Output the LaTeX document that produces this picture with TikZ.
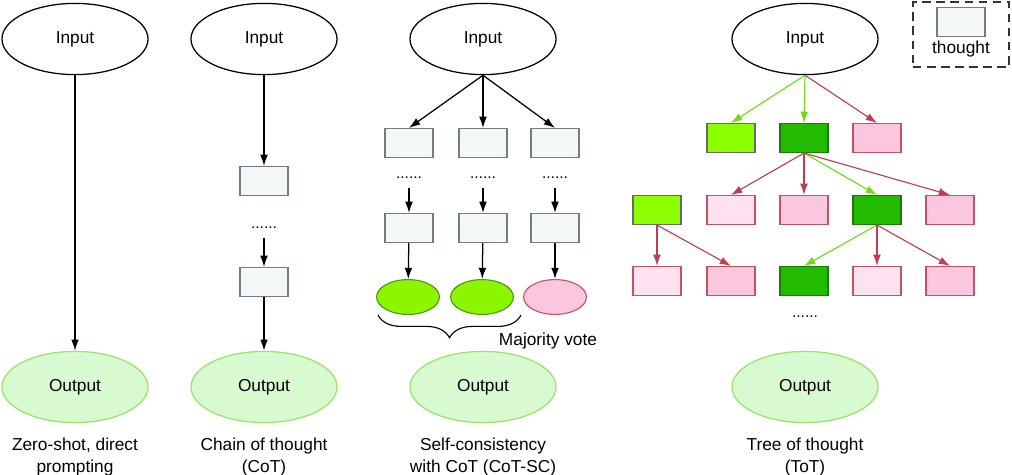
\documentclass[tikz,border=0pt]{standalone}
\usepackage{fontspec}
\setmainfont{Liberation Sans}
\usetikzlibrary{shapes.geometric,arrows.meta,decorations.pathreplacing}

\definecolor{thoughtfill}{HTML}{F4F8F9}
\definecolor{thoughtdraw}{HTML}{6E7F80}
\definecolor{outfill}{HTML}{D7FAD0}
\definecolor{outdraw}{HTML}{9AE46A}
\definecolor{limefill}{HTML}{8CFF00}
\definecolor{limedraw}{HTML}{666D66}
\definecolor{leaffill}{HTML}{22BB00}
\definecolor{leafdraw}{HTML}{1B7A0A}
\definecolor{pinkfill}{HTML}{FBC7DE}
\definecolor{palepink}{HTML}{FFE2F0}
\definecolor{pinkdraw}{HTML}{C9505F}
\definecolor{votefill}{HTML}{8CF500}
\definecolor{votedraw}{HTML}{4B9A10}
\definecolor{redline}{HTML}{C23B4E}
\definecolor{greenline}{HTML}{6BDD10}

\tikzset{
  inputnode/.style={ellipse, draw=black, line width=0.9pt, minimum width=3.65cm, minimum height=1.78cm, font=\fontsize{12.3}{15}\selectfont},
  outputnode/.style={ellipse, draw=outdraw, fill=outfill, line width=0.9pt, minimum width=3.65cm, minimum height=1.78cm, font=\fontsize{12.3}{15}\selectfont},
  thoughtbox/.style={draw=thoughtdraw, fill=thoughtfill, line width=0.9pt, minimum width=1.2cm, minimum height=0.72cm, inner sep=0pt},
  limebox/.style={thoughtbox, draw=limedraw, fill=limefill},
  leafbox/.style={thoughtbox, draw=leafdraw, fill=leaffill},
  pinkbox/.style={thoughtbox, draw=pinkdraw, fill=pinkfill},
  palebox/.style={thoughtbox, draw=pinkdraw, fill=palepink},
  voteyes/.style={ellipse, draw=votedraw, fill=votefill, line width=0.8pt, minimum width=1.57cm, minimum height=0.87cm, inner sep=0pt},
  voteno/.style={voteyes, draw=pinkdraw, fill=pinkfill},
  caption/.style={align=center, font=\fontsize{12.3}{15.6}\selectfont},
  dotsnode/.style={font=\fontsize{11}{11}\selectfont, inner xsep=0pt, inner ysep=6pt},
  arr/.style={-{Latex[length=8pt,width=5.5pt]}, line width=0.9pt, draw=black},
  redarr/.style={arr, draw=redline, line width=0.8pt},
  greenarr/.style={arr, draw=greenline, line width=0.8pt}
}

\begin{document}
\begin{tikzpicture}[x=0.025cm, y=-0.025cm]
  \useasboundingbox (0,0) rectangle (1012,474);

  % zero-shot
  \node[inputnode] (zsIn) at (75,39) {Input};
  \node[outputnode] (zsOut) at (75,387) {Output};
  \node[caption] (zsCap) at (75,457) {Zero-shot, direct\\prompting};
  \draw[arr] (zsIn) -- (zsOut);

  % chain of thought
  \node[inputnode] (cotIn) at (264,39) {Input};
  \node[thoughtbox] (cotA) at (264,181) {};
  \node[dotsnode] (cotDots) at (264,228) {......};
  \node[thoughtbox] (cotB) at (264,282) {};
  \node[outputnode] (cotOut) at (264,387) {Output};
  \node[caption] (cotCap) at (264,457) {Chain of thought\\(CoT)};
  \draw[arr] (cotIn) -- (cotA);
  \draw[arr] (cotDots) -- (cotB);
  \draw[arr] (cotB) -- (cotOut);

  % self-consistency
  \node[inputnode] (scIn) at (483,39) {Input};
  \node[thoughtbox] (scA1) at (409,143) {};
  \node[thoughtbox] (scA2) at (483,143) {};
  \node[thoughtbox] (scA3) at (555,143) {};
  \node[dotsnode] (scD1) at (409,178) {......};
  \node[dotsnode] (scD2) at (483,178) {......};
  \node[dotsnode] (scD3) at (555,178) {......};
  \node[thoughtbox] (scB1) at (409,228) {};
  \node[thoughtbox] (scB2) at (483,228) {};
  \node[thoughtbox] (scB3) at (555,228) {};
  \node[voteyes] (scV1) at (408,297) {};
  \node[voteyes] (scV2) at (482,297) {};
  \node[voteno] (scV3) at (555,297) {};
  \node[outputnode] (scOut) at (483,387) {Output};
  \node[caption] (scVote) at (548,341) {Majority vote};
  \node[caption] (scCap) at (483,457) {Self-consistency\\with CoT (CoT-SC)};
  \coordinate (braceL) at (378,315);
  \coordinate (braceR) at (521,315);
  \draw[arr] (scIn.south) -- (scA1.north);
  \draw[arr] (scIn.south) -- (scA2.north);
  \draw[arr] (scIn.south) -- (scA3.north);
  \draw[arr] (scD1) -- (scB1);
  \draw[arr] (scD2) -- (scB2);
  \draw[arr] (scD3) -- (scB3);
  \draw[arr] (scB1) -- (scV1);
  \draw[arr] (scB2) -- (scV2);
  \draw[arr] (scB3) -- (scV3);
  \draw[line width=0.8pt, decorate, decoration={brace, amplitude=0.57cm}] (braceR) -- (braceL);

  % tree of thought
  \node[inputnode] (totIn) at (805,39) {Input};
  \node[limebox] (totA1) at (731,138) {};
  \node[leafbox] (totA2) at (804,138) {};
  \node[pinkbox] (totA3) at (877,138) {};
  \node[limebox] (totB1) at (657,210) {};
  \node[palebox] (totB2) at (731,210) {};
  \node[pinkbox] (totB3) at (804,210) {};
  \node[leafbox] (totB4) at (877,210) {};
  \node[pinkbox] (totB5) at (950,210) {};
  \node[palebox] (totC1) at (657,281) {};
  \node[pinkbox] (totC2) at (731,281) {};
  \node[leafbox] (totC3) at (804,281) {};
  \node[palebox] (totC4) at (877,281) {};
  \node[pinkbox] (totC5) at (950,281) {};
  \node[dotsnode] (totDots) at (805,317) {......};
  \node[outputnode] (totOut) at (805,387) {Output};
  \node[caption] (totCap) at (805,457) {Tree of thought\\(ToT)};
  \draw[greenarr] (totIn.south) -- (totA1.north);
  \draw[greenarr] (totIn.south) -- (totA2.north);
  \draw[redarr] (totIn.south) -- (totA3.north);
  \draw[redarr] (totA2.south) -- (totB2.north);
  \draw[redarr] (totA2.south) -- (totB3.north);
  \draw[greenarr] (totA2.south) -- (totB4.north);
  \draw[redarr] (totA2.south) -- (totB5.north);
  \draw[redarr] (totB1.south) -- (totC1.north);
  \draw[redarr] (totB1.south) -- (totC2.north);
  \draw[greenarr] (totB4.south) -- (totC3.north);
  \draw[redarr] (totB4.south) -- (totC4.north);
  \draw[redarr] (totB4.south) -- (totC5.north);

  % legend
  \node[draw=black!80, dashed, dash pattern=on 6pt off 4pt, line width=0.9pt, minimum width=2.4cm, minimum height=1.62cm] (legend) at (961,34.5) {};
  \node[thoughtbox] (legBox) at (961,22) {};
  \node[caption] (legText) at (961,49) {thought};
\end{tikzpicture}
\end{document}
